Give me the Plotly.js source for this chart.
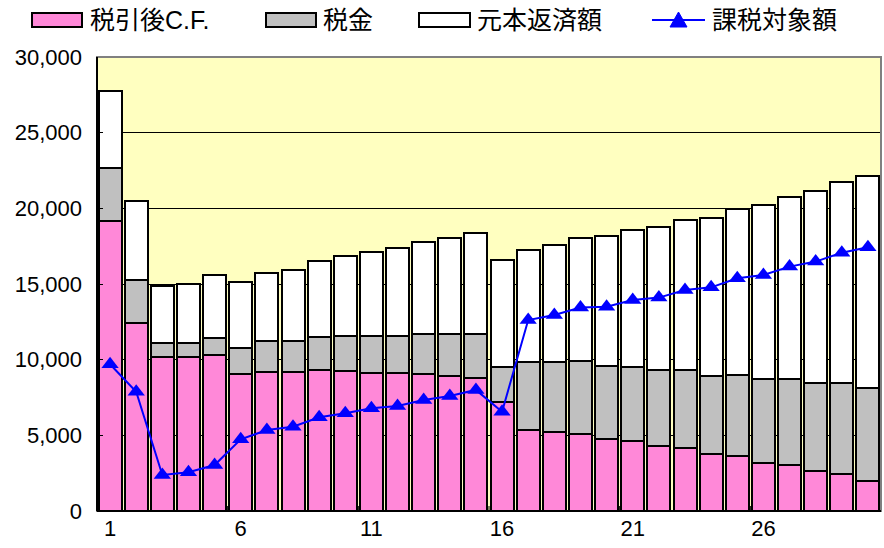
<!DOCTYPE html>
<html><head><meta charset="utf-8">
<script src="https://cdn.plot.ly/plotly-3.0.1.min.js"></script>
<style>html,body{margin:0;padding:0;background:#fff}</style>
</head><body>
<div id="chart" style="width:884px;height:548px"></div>
<script>
const periods = Array.from({length:30},(_,i)=>String(i+1));
const afterTaxCF = [19160,12400,10200,10150,10310,9080,9210,9160,9320,9270,9140,9140,9030,8920,8790,7180,5350,5200,5110,4780,4630,4300,4140,3770,3630,3190,3020,2670,2420,1980];
const tax = [3490,2870,920,950,1100,1710,2020,2070,2200,2320,2450,2420,2640,2750,2880,2360,4470,4620,4800,4800,4910,5020,5180,5180,5380,5510,5680,5770,6020,6170];
const principal = [5130,5220,3770,3920,4190,4320,4490,4720,5000,5280,5510,5840,6080,6390,6700,7070,7450,7780,8150,8590,9030,9450,9910,10440,10970,11520,12070,12690,13300,13970];
const taxable = [9700,7880,2380,2560,3040,4740,5350,5570,6190,6460,6790,6940,7340,7600,8000,6560,12620,12950,13440,13500,13940,14100,14600,14780,15380,15600,16150,16480,17070,17430];
const seriesNames = ['税引後C.F.','税金','元本返済額','課税対象額'];
const yTicks = [0,5000,10000,15000,20000,25000,30000];

const PINK='#FF88D8', GRAY='#C0C0C0', WHITE='#FFFFFF', BLUE='#0000FF';
const outline = {color:'#000', width:2};

const traces = [
  {type:'bar', x:periods, y:afterTaxCF, name:seriesNames[0], marker:{color:PINK, line:outline}},
  {type:'bar', x:periods, y:tax, name:seriesNames[1], marker:{color:GRAY, line:outline}},
  {type:'bar', x:periods, y:principal, name:seriesNames[2], marker:{color:WHITE, line:outline}},
  {type:'scatter', mode:'lines+markers', x:periods, y:taxable, name:seriesNames[3],
   line:{color:BLUE, width:2}, marker:{symbol:'triangle-up', size:15, color:BLUE}}
];

const L=97, T=57, W=784, H=454;
const px = v => (v-L)/W;
const py = v => (T+H-v)/H;

const legendFont = {family:'Liberation Sans, Noto Sans CJK JP, sans-serif', size:25, color:'#000'};
const shapes = [
  {type:'rect', xref:'paper', yref:'paper', x0:0, x1:1, y0:0, y1:1, line:{color:'#808080', width:2}, layer:'above'},
  {type:'line', xref:'paper', yref:'paper', x0:0, x1:0, y0:0, y1:1, line:{color:'#000', width:2}, layer:'above'},
  {type:'line', xref:'paper', yref:'paper', x0:0, x1:1, y0:0, y1:0, line:{color:'#000', width:2}, layer:'above'},
  {type:'rect', xref:'paper', yref:'paper', x0:px(32), x1:px(82), y0:py(27), y1:py(13), fillcolor:PINK, line:{color:'#000',width:2}},
  {type:'rect', xref:'paper', yref:'paper', x0:px(266), x1:px(316), y0:py(27), y1:py(13), fillcolor:GRAY, line:{color:'#000',width:2}},
  {type:'rect', xref:'paper', yref:'paper', x0:px(419), x1:px(470), y0:py(27), y1:py(13), fillcolor:WHITE, line:{color:'#000',width:2}},
  {type:'line', xref:'paper', yref:'paper', x0:px(652), x1:px(705), y0:py(20), y1:py(20), line:{color:BLUE,width:2}},
  {type:'path', xref:'paper', yref:'paper',
   path:`M ${px(670)} ${py(27)} L ${px(687)} ${py(27)} L ${px(678.5)} ${py(12)} Z`, fillcolor:BLUE, line:{color:BLUE,width:1}}
];
const annotations = [
  {x:px(88), y:py(20), text:seriesNames[0]},
  {x:px(321), y:py(20), text:seriesNames[1]},
  {x:px(475), y:py(20), text:seriesNames[2]},
  {x:px(710), y:py(20), text:seriesNames[3]}
].map(a=>Object.assign({xref:'paper', yref:'paper', xanchor:'left', yanchor:'middle', showarrow:false, font:legendFont}, a));

const layout = {
  width:884, height:548,
  margin:{l:L, r:884-L-W, t:T, b:548-T-H, pad:0},
  paper_bgcolor:'#FFFFFF', plot_bgcolor:'#FFFFC0',
  barmode:'stack', bargap:0.12,
  showlegend:false,
  font:{family:'Liberation Sans, Arial, sans-serif', size:22, color:'#000'},
  xaxis:{type:'category', range:[-0.5, 29.5], tickmode:'array', tickvals:['1','6','11','16','21','26'],
         ticks:'', showline:false, showgrid:false, zeroline:false,
         ticklabelstandoff:2, tickfont:{size:22}, fixedrange:true},
  yaxis:{range:[0,30000], tickvals:yTicks, tickformat:',d', ticks:'inside', ticklen:6, tickcolor:'#000',
         showline:false, showgrid:true, gridcolor:'#000', gridwidth:1,
         zeroline:false, ticklabelstandoff:14, tickfont:{size:22}, fixedrange:true},
  shapes:shapes, annotations:annotations
};
// tick marks on category boundaries every 5 periods (bottom axis, inside)
for (let k=0;k<6;k++){
  shapes.push({type:'line', xref:'x', yref:'paper', x0:k*5-0.5, x1:k*5-0.5, y0:0, y1:py(506), line:{color:'#000',width:1}, layer:'above'});
}
Plotly.newPlot('chart', traces, layout, {displayModeBar:false, staticPlot:true});
</script>
</body></html>
